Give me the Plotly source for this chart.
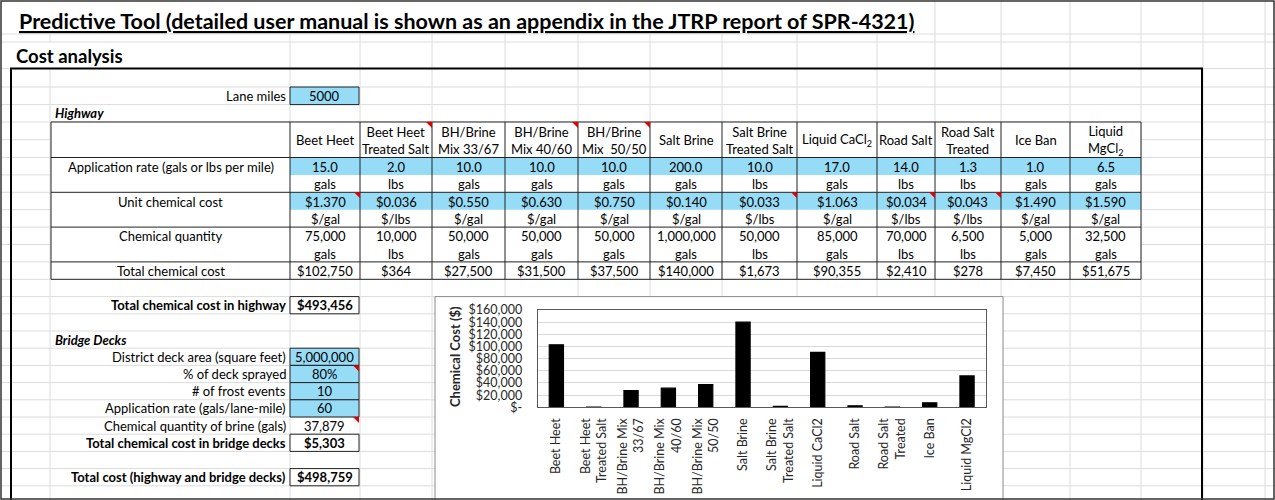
import plotly.graph_objects as go

W, H = 1275, 500

# ---------------- data ----------------
header_labels = ["Beet Heet", "Beet Heet<br>Treated Salt", "BH/Brine<br>Mix 33/67", "BH/Brine<br>Mix 40/60",
                 "BH/Brine<br>Mix  50/50", "Salt Brine", "Salt Brine<br>Treated Salt", "Liquid CaCl<sub>2</sub>",
                 "Road Salt", "Road Salt<br>Treated", "Ice Ban", "Liquid<br>MgCl<sub>2</sub>"]
chart_labels = ["Beet Heet", "Beet Heet<br>Treated Salt", "BH/Brine Mix<br>33/67", "BH/Brine Mix<br>40/60",
                "BH/Brine Mix<br>50/50", "Salt Brine", "Salt Brine<br>Treated Salt", "Liquid CaCl2",
                "Road Salt", "Road Salt<br>Treated", "Ice Ban", "Liquid MgCl2"]
app_rate = [15.0, 2.0, 10.0, 10.0, 10.0, 200.0, 10.0, 17.0, 14.0, 1.3, 1.0, 6.5]
app_unit = ["gals", "lbs", "gals", "gals", "gals", "gals", "lbs", "gals", "lbs", "lbs", "gals", "gals"]
unit_cost = [1.370, 0.036, 0.550, 0.630, 0.750, 0.140, 0.033, 1.063, 0.034, 0.043, 1.490, 1.590]
cost_unit = ["$/gal", "$/lbs", "$/gal", "$/gal", "$/gal", "$/gal", "$/lbs", "$/gal", "$/lbs", "$/lbs", "$/gal", "$/gal"]
chem_qty = [75000, 10000, 50000, 50000, 50000, 1000000, 50000, 85000, 70000, 6500, 5000, 32500]
total_cost = [102750, 364, 27500, 31500, 37500, 140000, 1673, 90355, 2410, 278, 7450, 51675]
row_labels = ["Application rate (gals or lbs per mile)", "", "Unit chemical cost", "",
              "Chemical quantity", "", "Total chemical cost"]

lane_miles = "5000"
highway_total_label = "Total chemical cost in highway"
highway_total = "$493,456"
bridge_labels = ["District deck area (square feet)", "% of deck sprayed", "# of frost events",
                 "Application rate (gals/lane-mile)", "Chemical quantity of brine (gals)",
                 "Total chemical cost in bridge decks"]
bridge_values = ["5,000,000", "80%", "10", "60", "37,879", "$5,303"]
grand_total_label = "Total cost (highway and bridge decks)"
grand_total = "$498,759"

y_tickvals = [0, 20000, 40000, 60000, 80000, 100000, 120000, 140000, 160000]
y_ticktext = ["$-", "$20,000", "$40,000", "$60,000", "$80,000", "$100,000", "$120,000", "$140,000", "$160,000"]

title_text = "Predictive Tool (detailed user manual is shown as an appendix in the JTRP report of SPR-4321)"

# ---------------- geometry helpers ----------------
def X(p):
    return p / W

def Y(p):
    return 1 - p / H

FONT = "Lato"
BLUE = "#97dcf6"
GRID = "#dcdcdc"
shapes = []
annots = []

def line(x0, y0, x1, y1, color=GRID, width=1, layer="below"):
    shapes.append(dict(type="line", xref="paper", yref="paper", x0=X(x0), y0=Y(y0), x1=X(x1), y1=Y(y1),
                       line=dict(color=color, width=width), layer=layer))

def rect(x0, y0, x1, y1, fill=None, color=None, width=1, layer="below"):
    shapes.append(dict(type="rect", xref="paper", yref="paper", x0=X(x0), y0=Y(y0), x1=X(x1), y1=Y(y1),
                       fillcolor=fill if fill else "rgba(0,0,0,0)",
                       line=dict(color=color if color else "rgba(0,0,0,0)", width=width if color else 0),
                       layer=layer))

def tri(xr, yt, s=6):
    path = "M {} {} L {} {} L {} {} Z".format(X(xr - s), Y(yt), X(xr), Y(yt), X(xr), Y(yt + s))
    shapes.append(dict(type="path", xref="paper", yref="paper", path=path, fillcolor="#e00000",
                       line=dict(width=0), layer="above"))

def txt(x, y, s, anchor="center", size=13, bold=False, italic=False, color="black"):
    if bold:
        s = "<b>" + s + "</b>"
    if italic:
        s = "<i>" + s + "</i>"
    annots.append(dict(xref="paper", yref="paper", x=X(x), y=Y(y), text=s, showarrow=False,
                       xanchor=anchor, yanchor="middle", font=dict(family=FONT, size=size, color=color)))

# ---------------- spreadsheet grid ----------------
vgrid = [50, 290, 360, 432, 505, 578, 650, 722, 797, 877, 935, 1001, 1070, 1141, 1203, 1265]
hgrid = [34, 42, 68.5, 87, 104.6, 122, 139.7, 157.5, 174.9, 192.3, 209.7, 227.1, 244.5, 261.9, 279.3,
         296.6, 313.8, 331, 348.2, 365.4, 382.6, 399.8, 417, 434.2, 451.4, 468.6, 485.8]
for yy in hgrid:
    line(0, yy, W, yy)
for xx in vgrid:
    line(xx, 34, xx, 42)
    line(xx, 68.5, xx, H)
    if xx >= 935:
        line(xx, 0, xx, 34)
    if xx >= 290:
        line(xx, 42, xx, 68.5)

# ---------------- title ----------------
txt(17, 21, "<u>" + title_text + "</u>", anchor="left", size=21.5, bold=True)
txt(14, 56, "Cost analysis", anchor="left", size=18.5, bold=True)

# ---------------- top-left inputs ----------------
txt(288, 95.8, "Lane miles", anchor="right")
rect(290, 87, 359, 104.6, fill=BLUE, color="#222", width=1)
txt(324.5, 95.8, lane_miles)
txt(53, 113.3, "Highway", anchor="left", bold=True, italic=True)

# ---------------- highway table ----------------
col_edges = [51, 290, 360, 432, 505, 578, 650, 722, 797, 877, 935, 1001, 1070, 1141]
row_edges = [122, 157.5, 174.9, 192.3, 209.7, 227.1, 244.5, 261.9, 279.3]
rect(col_edges[0], row_edges[0], col_edges[-1], row_edges[-1], fill="white")
rect(col_edges[1], row_edges[1], col_edges[-1], row_edges[2], fill=BLUE)
rect(col_edges[1], row_edges[3], col_edges[-1], row_edges[4], fill=BLUE)
for xx in col_edges:
    line(xx, row_edges[0], xx, row_edges[-1], color="#222", width=1, layer="above")
for yy in [row_edges[0], row_edges[1], row_edges[3], row_edges[5], row_edges[7], row_edges[8]]:
    line(col_edges[0], yy, col_edges[-1], yy, color="#222", width=1, layer="above")

centers_x = [(col_edges[i] + col_edges[i + 1]) / 2 for i in range(len(col_edges) - 1)]
rc = [(row_edges[i] + row_edges[i + 1]) / 2 for i in range(len(row_edges) - 1)]
for i, lab in enumerate(row_labels):
    if lab:
        txt(centers_x[0], rc[i + 1] + 0.5, lab)
for j in range(12):
    cx = centers_x[j + 1]
    txt(cx, rc[0] + 0.5, header_labels[j])
    txt(cx, rc[1] + 0.5, "{:.1f}".format(app_rate[j]))
    txt(cx, rc[2] + 0.5, app_unit[j])
    txt(cx, rc[3] + 0.5, "${:.3f}".format(unit_cost[j]))
    txt(cx, rc[4] + 0.5, cost_unit[j])
    txt(cx, rc[5] + 0.5, "{:,}".format(chem_qty[j]))
    txt(cx, rc[6] + 0.5, app_unit[j])
    txt(cx, rc[7] + 0.5, "${:,}".format(total_cost[j]))

# comment indicators
for j in [1, 3, 4]:
    tri(col_edges[j + 2], row_edges[0])
for j in [0, 6, 8, 9]:
    tri(col_edges[j + 2], row_edges[3])

# ---------------- bottom-left summary ----------------
txt(288, 305.2, highway_total_label, anchor="right", bold=True)
rect(290, 296.6, 359, 313.8, fill="white", color="#222", width=1)
txt(324.5, 305.2, highway_total, bold=True)

txt(53, 339.6, "Bridge Decks", anchor="left", bold=True, italic=True)
b_rows = [348.2, 365.4, 382.6, 399.8, 417, 434.2, 451.4]
for i, (lab, val) in enumerate(zip(bridge_labels, bridge_values)):
    y0, y1 = b_rows[i], b_rows[i + 1]
    ym = (y0 + y1) / 2
    last = i == len(bridge_labels) - 1
    if i < 4:
        rect(290, y0, 359, y1, fill=BLUE, color="#222", width=1)
    if last:
        rect(290, y0, 359, y1, fill="white", color="#222", width=1)
    txt(288, ym, lab, anchor="right", bold=last)
    txt(324.5, ym, val, bold=last)
tri(359, 365.4)
tri(359, 417)

txt(288, 477.2, grand_total_label, anchor="right", bold=True)
rect(290, 468.6, 359, 485.8, fill="white", color="#222", width=1)
txt(324.5, 477.2, grand_total, bold=True)

# ---------------- chart object frame ----------------
rect(435, 296.6, 1003, 520, fill="white", color="#8a8a8a", width=1)
annots.append(dict(xref="paper", yref="paper", x=X(455), y=Y(357), text="<b>Chemical Cost ($)</b>",
                   showarrow=False, textangle=-90, xanchor="center", yanchor="middle",
                   font=dict(family=FONT, size=13, color="#262626")))

# ---------------- outer box / frame ----------------
rect(11, 68.5, 1202, 520, color="black", width=2, layer="above")
rect(1, 1, W - 1, H - 1, color="#333", width=1.5, layer="above")

# ---------------- bar chart ----------------
fig = go.Figure()
fig.add_trace(go.Bar(x=chart_labels, y=total_cost,
                     marker=dict(color="black", line=dict(color="black", width=1.2)),
                     hoverinfo="x+y"))

fig.update_layout(
    width=W, height=H,
    margin=dict(l=0, r=0, t=0, b=0, autoexpand=False),
    paper_bgcolor="white",
    plot_bgcolor="white",
    showlegend=False,
    bargap=0.62,
    shapes=shapes,
    annotations=annots,
    font=dict(family=FONT, color="black"),
    xaxis=dict(domain=[X(537.7), X(985.7)], anchor="y", tickangle=-90, ticks="",
               tickfont=dict(family=FONT, size=12.5, color="#262626"), showgrid=False,
               showline=True, mirror=True, linecolor="#595959", linewidth=1,
               ticklabelstandoff=5, fixedrange=True, automargin=False),
    yaxis=dict(domain=[Y(407.3), Y(310)], anchor="x", range=[0, 160000], tickvals=y_tickvals,
               ticktext=y_ticktext, ticks="", tickfont=dict(family=FONT, size=12.5, color="#262626"),
               showgrid=True, gridcolor="#d9d9d9", zeroline=False, showline=True, mirror=True,
               linecolor="#595959", linewidth=1, ticklabelstandoff=12, fixedrange=True, automargin=False),
)

fig.write_html("out.html", config={"displayModeBar": False},
               post_script="document.body.style.margin='0px';document.body.style.overflow='hidden';")
